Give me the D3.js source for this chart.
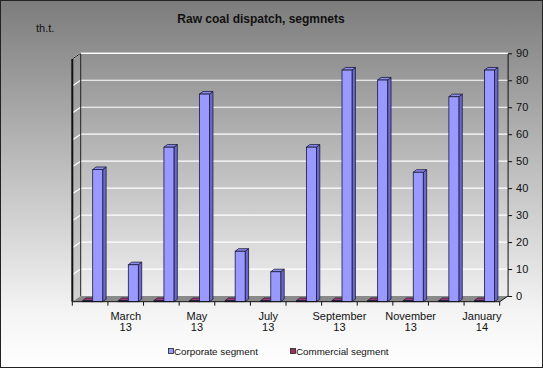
<!DOCTYPE html>
<html><head><meta charset="utf-8">
<script src="https://cdn.jsdelivr.net/npm/d3@7"></script>
<style>html,body{margin:0;padding:0;background:#fff}svg{display:block}text{font-family:Arial,"Liberation Sans",sans-serif}</style>
</head><body><div id="chart"></div>
<script>
const months = ["February 13","March 13","April 13","May 13","June 13","July 13","August 13","September 13","October 13","November 13","December 13","January 14"];
const labelsShown = ["March 13","May 13","July 13","September 13","November 13","January 14"];
const corporate = [49,13.7,57.3,77,18.7,11.1,57.3,85.9,82.2,48,76,85.9];
const commercial = [0.4,0.4,0.4,0.4,0.4,0.4,0.4,0.4,0.4,0.4,0.4,0.4];
const seriesNames = ["Corporate segment","Commercial segment"];
const yTicks = [0,10,20,30,40,50,60,70,80,90];

const W = 543, H = 368;
const svg = d3.select("#chart").append("svg").attr("width", W).attr("height", H);
const defs = svg.append("defs");
const g = defs.append("linearGradient").attr("id","bg").attr("x1",0).attr("y1",0).attr("x2",0).attr("y2",1);
g.append("stop").attr("offset",0).attr("stop-color","#7c7c7c");
g.append("stop").attr("offset",0.5).attr("stop-color","#c4c4c4");
g.append("stop").attr("offset",0.85).attr("stop-color","#f4f4f4");
g.append("stop").attr("offset",1).attr("stop-color","#ffffff");

svg.append("rect").attr("x",0.5).attr("y",0.5).attr("width",W-1).attr("height",H-1)
  .attr("fill","url(#bg)").attr("stroke","#222");

// geometry
const frontL = 72.3, frontR = 499.7, DX = 8.4, DY = -5.7;
const y = d3.scaleLinear().domain([0,90]).range([296,53.3]);   // back wall
const x = d3.scaleBand().domain(months).range([frontL, frontR]).padding(0);
const x1 = d3.scaleBand().domain(["Commercial segment","Corporate segment"]).range([10.4,30.4]).padding(0);
const floorFront = y(0) - DY;

// left side wall
svg.append("path")
  .attr("d",`M${frontL},${floorFront}L${frontL},${y(90)-DY}L${frontL+DX},${y(90)}L${frontL+DX},${y(0)}Z`)
  .attr("fill","#9a9a9a").attr("fill-opacity",0.35).attr("stroke","none");
// floor
svg.append("path")
  .attr("d",`M${frontL},${floorFront}L${frontL+DX},${y(0)}L${frontR+DX},${y(0)}L${frontR},${floorFront}Z`)
  .attr("fill","#8a8a8a").attr("stroke","none");

// gridlines back wall + left wall
yTicks.forEach(t=>{
  if(t===0) return;
  svg.append("line").attr("x1",frontL+DX).attr("x2",frontR+DX).attr("y1",y(t)).attr("y2",y(t))
    .attr("stroke","#fff").attr("stroke-width",1.2);
  svg.append("line").attr("x1",frontL).attr("x2",frontL+DX).attr("y1",y(t)-DY).attr("y2",y(t))
    .attr("stroke","#fff").attr("stroke-width",1.2);
});
// wall edges
svg.append("line").attr("x1",frontL+DX).attr("x2",frontL+DX).attr("y1",y(90)).attr("y2",y(0)).attr("stroke","#222").attr("stroke-width",1);
svg.append("line").attr("x1",frontL).attr("x2",frontL).attr("y1",y(90)-DY).attr("y2",floorFront).attr("stroke","#111").attr("stroke-width",2);
svg.append("line").attr("x1",frontL).attr("x2",frontL+DX).attr("y1",y(90)-DY).attr("y2",y(90)).attr("stroke","#111").attr("stroke-width",1);
svg.append("line").attr("x1",frontL+DX).attr("x2",frontL+DX).attr("y1",y(0)).attr("y2",y(0)).attr("stroke","#111");

// bars
const bw = x1.bandwidth(), bd = 3.4, bh = 2.6;
function bar(cx, v, fill, side, top){
  const yt = y(v) - DY, yb = floorFront;
  const gg = svg.append("g");
  gg.append("path").attr("d",`M${cx+bw},${yb}L${cx+bw},${yt}L${cx+bw+bd},${yt-bh}L${cx+bw+bd},${yb-bh}Z`)
    .attr("fill",side).attr("stroke","#1a1a3a").attr("stroke-width",0.8);
  gg.append("path").attr("d",`M${cx},${yt}L${cx+bd},${yt-bh}L${cx+bw+bd},${yt-bh}L${cx+bw},${yt}Z`)
    .attr("fill",top).attr("stroke","#1a1a3a").attr("stroke-width",0.8);
  gg.append("rect").attr("x",cx).attr("y",yt).attr("width",bw).attr("height",Math.max(0,yb-yt))
    .attr("fill",fill).attr("stroke","#1a1a3a").attr("stroke-width",0.8);
}
months.forEach((m,i)=>{
  bar(x(m)+x1("Commercial segment"), commercial[i], "#993366", "#6b2448", "#a04070");
  bar(x(m)+x1("Corporate segment"), corporate[i], "#9999ff", "#6a6acc", "#8d8df0");
});

// front floor edge + x ticks
svg.append("line").attr("x1",frontL).attr("x2",frontR).attr("y1",floorFront).attr("y2",floorFront).attr("stroke","#111");
const xt = months.map(m=>x(m)).concat([frontR]);
xt.forEach(v=>svg.append("line").attr("x1",v).attr("x2",v).attr("y1",floorFront).attr("y2",floorFront+4).attr("stroke","#111"));
// x labels
months.forEach(m=>{
  if(!labelsShown.includes(m)) return;
  const parts = m.split(" ");
  const t = svg.append("text").attr("x",x(m)+x.bandwidth()/2).attr("y",319.5).attr("text-anchor","middle")
    .attr("font-size",11).attr("fill","#111");
  t.append("tspan").attr("x",x(m)+x.bandwidth()/2).text(parts[0]);
  t.append("tspan").attr("x",x(m)+x.bandwidth()/2).attr("dy",11.5).text(parts[1]);
});

// right y axis
const ax = frontR + DX;
svg.append("line").attr("x1",ax).attr("x2",ax).attr("y1",y(90)).attr("y2",y(0)).attr("stroke","#111");
svg.append("line").attr("x1",ax).attr("x2",frontR).attr("y1",y(0)).attr("y2",floorFront).attr("stroke","#111");
const yAxis = svg.append("g").attr("transform",`translate(${ax},0)`)
  .call(d3.axisRight(y).tickValues(yTicks).tickSize(4).tickPadding(4));
yAxis.select(".domain").remove();
yAxis.selectAll("line").attr("stroke","#111");
yAxis.selectAll("text").attr("font-size",11).attr("fill","#111").attr("font-family","Arial, 'Liberation Sans', sans-serif");
// top edge of back wall
svg.append("line").attr("x1",frontL+DX).attr("x2",ax).attr("y1",y(90)).attr("y2",y(90)).attr("stroke","#fff").attr("stroke-width",1.2);

// title & unit
svg.append("text").attr("x",261).attr("y",23).attr("text-anchor","middle").attr("font-size",12).attr("font-weight","bold").attr("fill","#111").text("Raw coal dispatch, segmnets");
svg.append("text").attr("x",36).attr("y",31.5).attr("font-size",11).attr("fill","#111").text("th.t.");

// legend
const leg = [{n:seriesNames[0],c:"#9999ff",x:168},{n:seriesNames[1],c:"#993366",x:290}];
leg.forEach(l=>{
  svg.append("rect").attr("x",l.x+0.5).attr("y",348.5).attr("width",5).attr("height",5).attr("fill",l.c).attr("stroke","#222").attr("stroke-width",0.8);
  svg.append("text").attr("x",l.x+6).attr("y",355).attr("font-size",9.8).attr("fill","#111").text(l.n);
});
</script></body></html>
